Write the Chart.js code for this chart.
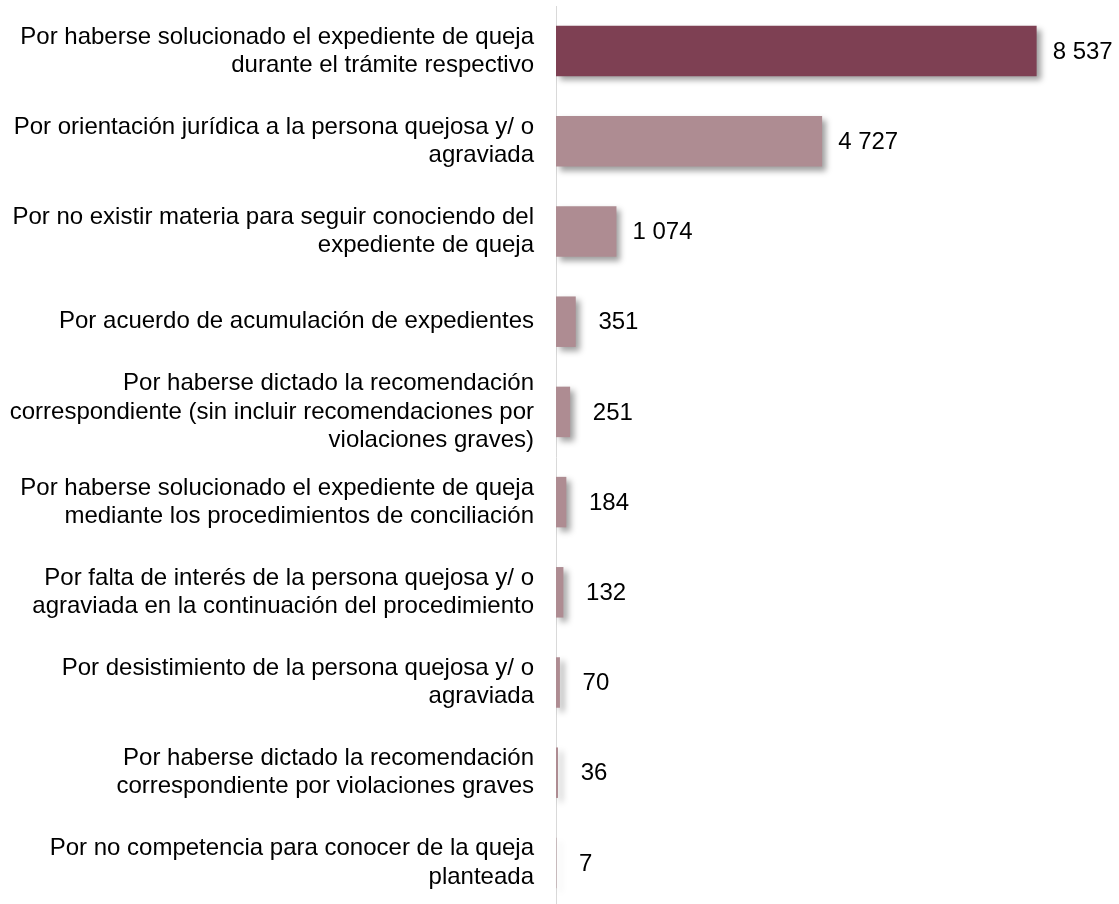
<!DOCTYPE html>
<html>
<head>
<meta charset="utf-8">
<script src="https://cdn.jsdelivr.net/npm/chart.js@4/dist/chart.umd.min.js"></script>
<style>
  html, body { margin: 0; padding: 0; background: #fff; overflow: hidden; }
  #wrap { position: absolute; left: 0; top: 0; width: 1119px; height: 908px; }
</style>
</head>
<body>
<div id="wrap"><canvas id="c" width="1119" height="908"></canvas></div>
<script>
const categories = [
  ["Por haberse solucionado el expediente de queja", "durante el trámite respectivo"],
  ["Por orientación jurídica a la persona quejosa y/ o", "agraviada"],
  ["Por no existir materia para seguir conociendo del", "expediente de queja"],
  "Por acuerdo de acumulación de expedientes",
  ["Por haberse dictado la recomendación", "correspondiente (sin incluir recomendaciones por", "violaciones graves)"],
  ["Por haberse solucionado el expediente de queja", "mediante los procedimientos de conciliación"],
  ["Por falta de interés de la persona quejosa y/ o", "agraviada en la continuación del procedimiento"],
  ["Por desistimiento de la persona quejosa y/ o", "agraviada"],
  ["Por haberse dictado la recomendación", "correspondiente por violaciones graves"],
  ["Por no competencia para conocer de la queja", "planteada"]
];
const values = [8537, 4727, 1074, 351, 251, 184, 132, 70, 36, 7];
const xMin = 0;
const xMax = 10000;

const darkColor = '#7E4053';
const lightColor = '#AE8C92';
const barColors = values.map((v, i) => i === 0 ? darkColor : lightColor);

const FONT = "'Liberation Sans', Arial, sans-serif";

function fmt(v) {
  const s = String(v).replace(/\B(?=(\d{3})+(?!\d))/g, ' ');
  return v < 1000 ? ' ' + s : s;
}

const shadowAndLabels = {
  id: 'shadowAndLabels',
  beforeDatasetsDraw(chart) {
    const ctx = chart.ctx;
    ctx.save();
    ctx.shadowColor = 'rgba(0,0,0,0.38)';
    ctx.shadowBlur = 6;
    ctx.shadowOffsetX = 4;
    ctx.shadowOffsetY = 4;
  },
  afterDatasetsDraw(chart) {
    const ctx = chart.ctx;
    ctx.restore();
    const meta = chart.getDatasetMeta(0);
    ctx.save();
    ctx.font = '24px ' + FONT;
    ctx.fillStyle = '#000';
    ctx.textAlign = 'left';
    ctx.textBaseline = 'middle';
    meta.data.forEach((bar, i) => {
      ctx.fillText(fmt(values[i]), bar.x + 16, bar.y + 1);
    });
    ctx.restore();
  }
};

new Chart(document.getElementById('c'), {
  type: 'bar',
  data: {
    labels: categories,
    datasets: [{
      data: values,
      backgroundColor: barColors,
      borderWidth: 0,
      barPercentage: 0.56,
      categoryPercentage: 1.0
    }]
  },
  options: {
    indexAxis: 'y',
    responsive: false,
    animation: false,
    devicePixelRatio: 1,
    layout: { padding: { top: 6, right: 0, bottom: 0, left: 0 } },
    plugins: {
      legend: { display: false },
      tooltip: { enabled: false },
      title: { display: false }
    },
    scales: {
      x: {
        display: false,
        min: xMin,
        max: xMax
      },
      y: {
        position: 'left',
        afterFit(scale) {
          scale.width = 556;
          scale.paddingTop = 0;
          scale.paddingBottom = 0;
        },
        grid: { display: false, drawTicks: false },
        border: { display: true, color: '#D9D9D9', width: 1 },
        ticks: {
          autoSkip: false,
          padding: 22,
          crossAlign: 'near',
          color: '#000',
          font: { family: FONT, size: 24, lineHeight: 1.17 }
        }
      }
    }
  },
  plugins: [shadowAndLabels]
});
</script>
</body>
</html>
